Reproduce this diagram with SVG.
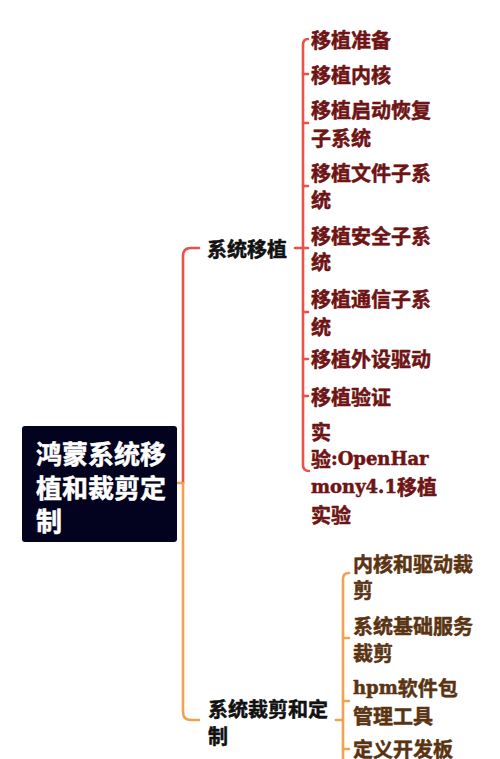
<svg xmlns="http://www.w3.org/2000/svg" width="500" height="759" viewBox="0 0 500 759">
<style>
.cjk{font-family:"Noto Sans CJK SC","Noto Sans",sans-serif;font-weight:bold;stroke-width:0.5;stroke-linejoin:round;}
.root{fill:#ffffff;stroke:#ffffff;font-size:26px;}
.l1{fill:#111111;stroke:#111111;font-size:20px;}
.red{fill:#6e1414;stroke:#6e1414;font-size:20px;}
.org{fill:#5a3412;stroke:#5a3412;font-size:20px;}
.lat{font-family:"DejaVu Serif","Liberation Serif",serif;font-size:18px;font-weight:bold;}
.cr{fill:none;stroke:#e9514a;stroke-width:2.6;stroke-linecap:round;}
.co{fill:none;stroke:#f0a24e;stroke-width:2.6;stroke-linecap:round;}
</style>
<rect width="500" height="759" fill="#ffffff"/>
<g id="connectors">
<path class="co" d="M177,483 H183"/>
<path class="cr" d="M183,483 V256 Q183,248 191,248 H199"/>
<path class="cr" d="M295,248 H303"/>
<path class="cr" d="M308,39 Q303,39 303,45 V465 Q303,471 309,471"/>
<path class="cr" d="M303,74 H308 M303,123 H308 M303,186 H308 M303,248 H308 M303,312 H308 M303,359 H308 M303,396 H308"/>
<path class="co" d="M183,483 V712 Q183,720 191,720 H199"/>
<path class="co" d="M336,720 H343"/>
<path class="co" d="M349,573 Q343,573 343,579 V759"/>
<path class="co" d="M343,638 H349 M343,701 H349 M343,749 H349"/>
</g>
<g id="root">
<rect x="22" y="426" width="155" height="116" rx="3" fill="#03031f"/>
<text class="cjk root" x="36" y="452" dominant-baseline="central">鸿蒙系统移<tspan x="36" dy="34">植和裁剪定</tspan><tspan x="36" dy="33">制</tspan></text>
</g>
<g id="n-port">
<text class="cjk l1" x="207" y="248" dominant-baseline="central">系统移植</text>
</g>
<g id="n-port-1"><text class="cjk red" x="311" y="39" dominant-baseline="central">移植准备</text></g>
<g id="n-port-2"><text class="cjk red" x="311" y="74" dominant-baseline="central">移植内核</text></g>
<g id="n-port-3"><text class="cjk red" x="311" y="109" dominant-baseline="central">移植启动恢复<tspan x="311" dy="28">子系统</tspan></text></g>
<g id="n-port-4"><text class="cjk red" x="311" y="172" dominant-baseline="central">移植文件子系<tspan x="311" dy="27">统</tspan></text></g>
<g id="n-port-5"><text class="cjk red" x="311" y="235" dominant-baseline="central">移植安全子系<tspan x="311" dy="26">统</tspan></text></g>
<g id="n-port-6"><text class="cjk red" x="311" y="298" dominant-baseline="central">移植通信子系<tspan x="311" dy="28">统</tspan></text></g>
<g id="n-port-7"><text class="cjk red" x="311" y="358" dominant-baseline="central">移植外设驱动</text></g>
<g id="n-port-8"><text class="cjk red" x="311" y="396" dominant-baseline="central">移植验证</text></g>
<g id="n-port-9"><text class="cjk red" x="311" y="431" dominant-baseline="central">实<tspan x="311" dy="27">验</tspan><tspan class="lat">:OpenHar</tspan><tspan x="311" dy="28" class="lat">mony4.1</tspan><tspan>移植</tspan><tspan x="311" dy="28">实验</tspan></text></g>
<g id="n-trim"><text class="cjk l1" x="208" y="708" dominant-baseline="central">系统裁剪和定<tspan x="208" dy="27">制</tspan></text></g>
<g id="n-trim-1"><text class="cjk org" x="353" y="563" dominant-baseline="central">内核和驱动裁<tspan x="353" dy="26">剪</tspan></text></g>
<g id="n-trim-2"><text class="cjk org" x="353" y="625" dominant-baseline="central">系统基础服务<tspan x="353" dy="27">裁剪</tspan></text></g>
<g id="n-trim-3"><text class="cjk org" x="353" y="687" dominant-baseline="central"><tspan class="lat">hpm</tspan><tspan>软件包</tspan><tspan x="353" dy="28">管理工具</tspan></text></g>
<g id="n-trim-4"><text class="cjk org" x="353" y="748" dominant-baseline="central">定义开发板</text></g>
</svg>
